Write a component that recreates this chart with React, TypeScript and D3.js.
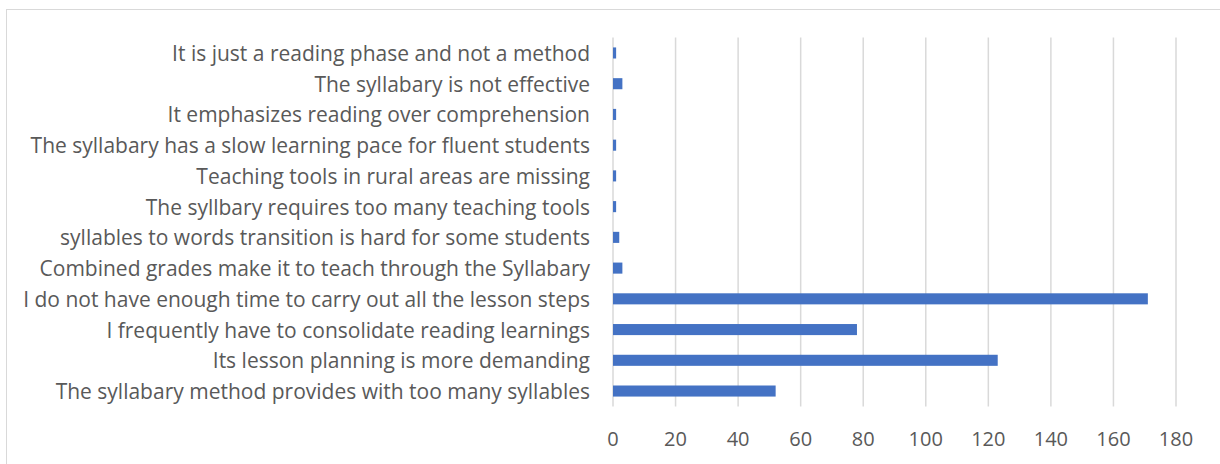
import React from "react";
import * as d3 from "d3";

// categories listed top to bottom as they appear in the chart
const categories = [
  "It is just a reading phase and not a method",
  "The syllabary is not effective",
  "It emphasizes reading over comprehension",
  "The syllabary has a slow learning pace for fluent students",
  "Teaching tools in rural areas are missing",
  "The syllbary requires too many teaching tools",
  "syllables to words transition is hard for some students",
  "Combined grades make it to teach through the Syllabary",
  "I do not have enough time to carry out all the lesson steps",
  "I frequently have to consolidate reading learnings",
  "Its lesson planning is more demanding",
  "The syllabary method provides with too many syllables",
];
const counts = [1, 3, 1, 1, 1, 1, 2, 3, 171, 78, 123, 52];
const ticks = [0, 20, 40, 60, 80, 100, 120, 140, 160, 180];

const W = 1220;
const H = 464;
const left = 613;
const right = 1176;
const top = 37.6;
const bottom = 406.4;
const font = "'Open Sans', Lato, sans-serif";
const textColor = "#595959";

export default function App() {
  const x = d3.scaleLinear().domain([0, 180]).range([left, right]);
  const y = d3
    .scaleBand()
    .domain(categories)
    .range([top, bottom])
    .paddingInner(0.64)
    .paddingOuter(0.32);

  return (
    <svg
      width={W}
      height={H}
      style={{ position: "absolute", left: 0, top: 0, background: "#fff" }}
    >
      <rect x={6.5} y={9.5} width={W} height={H} fill="none" stroke="#d9d9d9" />
      {ticks.map(t => (
        <g key={t}>
          <line
            x1={x(t)}
            x2={x(t)}
            y1={top}
            y2={bottom}
            stroke="#d9d9d9"
            strokeWidth={1.5}
          />
          <text
            x={x(t)}
            y={438}
            textAnchor="middle"
            dominantBaseline="central"
            fontFamily={font}
            fontSize={20}
            fill={textColor}
          >
            {t}
          </text>
        </g>
      ))}
      {categories.map((c, i) => (
        <g key={c}>
          <rect
            x={x(0)}
            y={y(c)}
            width={x(counts[i]) - x(0)}
            height={y.bandwidth()}
            fill="#4472c4"
          />
          <text
            x={590}
            y={(y(c) || 0) + y.bandwidth() / 2}
            textAnchor="end"
            dominantBaseline="central"
            fontFamily={font}
            fontSize={21}
            fill={textColor}
          >
            {c}
          </text>
        </g>
      ))}
    </svg>
  );
}
